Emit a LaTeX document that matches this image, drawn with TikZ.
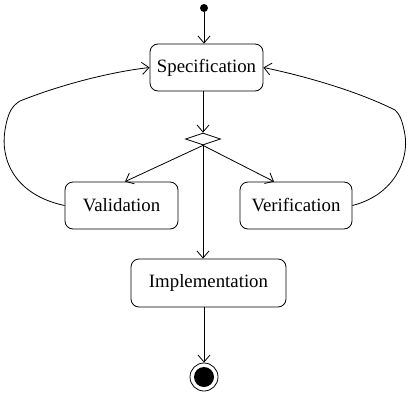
\documentclass[tikz,border=0pt]{standalone}
\usepackage{fontspec}
\setmainfont{Liberation Serif}
\usetikzlibrary{arrows.meta,shapes.geometric}
\begin{document}
\begin{tikzpicture}[x=1pt,y=-1pt, line width=0.8pt,
 act/.style={draw, rounded corners=8pt, font=\fontsize{18.8}{21}\selectfont, inner sep=0pt},
 arr/.style={-{Straight Barb[length=7pt,width=12pt]}}]
\useasboundingbox (0,0) rectangle (409,396);
\node[circle, fill, inner sep=0pt, minimum size=8pt] (start) at (204,8) {};
\node[act, minimum width=113pt, minimum height=47pt] (spec) at (206.5,67.5) {Specification};
\node[diamond, draw, inner sep=0pt, minimum width=35pt, minimum height=12pt] (dec) at (203,139) {};
\node[act, minimum width=113pt, minimum height=47pt] (val) at (121.5,205.5) {Validation};
\node[act, minimum width=112pt, minimum height=47pt] (ver) at (296,205.5) {Verification};
\node[act, minimum width=155pt, minimum height=48pt] (impl) at (208.5,283) {Implementation};
\node[circle, draw, inner sep=0pt, minimum size=28pt] (final) at (204,377) {};
\node[circle, fill, inner sep=0pt, minimum size=20pt] (finaldot) at (final.center) {};
\draw[arr] (start) -- (start |- spec.north);
\draw[arr] (dec.north |- spec.south) -- (dec.north);
\draw[arr] (dec.south) -- ([xshift=3.5pt]val.north);
\draw[arr] (dec.south) -- ([xshift=-22pt]ver.north);
\draw[arr] (dec.south) -- (dec.south |- impl.north);
\draw[arr] (impl.south -| final.north) -- (final.north);
\draw[arr] (val.west) .. controls (15,195) and (0,160) .. (5,130)
  .. controls (8,112) and (12,106) .. (20,101)
  .. controls (60,85) and (110,72) .. (spec.west);
\draw[arr] (ver.east) .. controls (394,195) and (409,160) .. (405,135)
  .. controls (402,118) and (399,114) .. (395,110)
  .. controls (355,90) and (300,75) .. (spec.east);
\end{tikzpicture}
\end{document}
